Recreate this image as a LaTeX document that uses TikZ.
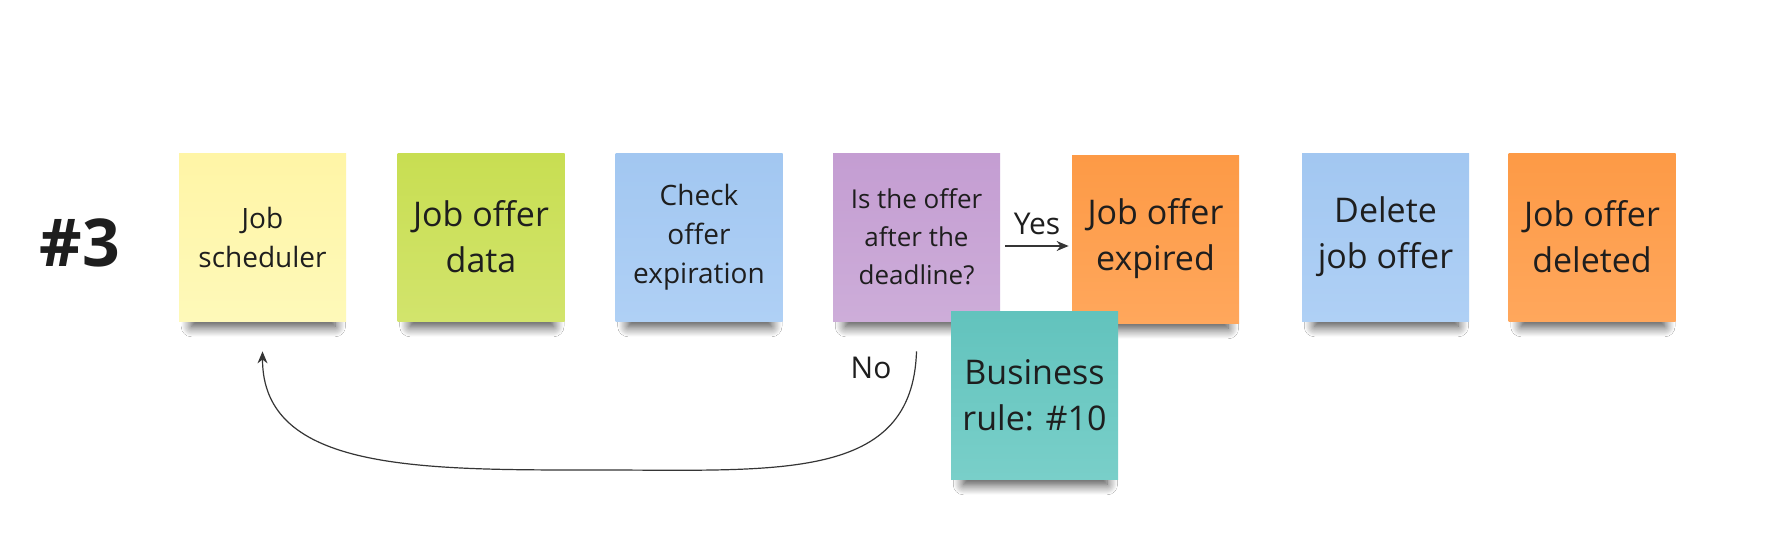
\documentclass[tikz,border=0pt]{standalone}
\usepackage{fontspec}
\setmainfont{Open Sans}
\usepackage{tikz}
\usetikzlibrary{shadows.blur}
\usetikzlibrary{arrows.meta}
\usepackage{xcolor}
\definecolor{ink}{HTML}{1E1E1E}
\definecolor{yellowtop}{HTML}{FFF5A6}
\definecolor{yellowbot}{HTML}{FEF9B9}
\definecolor{greentop}{HTML}{C8DE52}
\definecolor{greenbot}{HTML}{D2E46C}
\definecolor{bluetop}{HTML}{A2C7F1}
\definecolor{bluebot}{HTML}{AFD0F5}
\definecolor{purpletop}{HTML}{C49DD2}
\definecolor{purplebot}{HTML}{CDADD9}
\definecolor{orangetop}{HTML}{FD9A46}
\definecolor{orangebot}{HTML}{FFA75C}
\definecolor{tealtop}{HTML}{62C3BD}
\definecolor{tealbot}{HTML}{79CFC9}

\begin{document}
\begin{tikzpicture}[x=0.5pt,y=-0.5pt,
note/.style={minimum width=83.5pt, minimum height=84pt, align=center, text=ink,
  blur shadow={shadow xshift=0.5pt, shadow yshift=-10pt, shadow scale=0.86, shadow opacity=75, shadow blur radius=6pt, shadow blur steps=12}},
big/.style={font=\fontsize{17}{23}\selectfont},
mid/.style={font=\fontsize{14}{19.5}\selectfont},
small/.style={font=\fontsize{13}{19}\selectfont},
lbl/.style={text=ink, font=\fontsize{15}{18}\selectfont},
flow/.style={draw=ink!90, line width=0.6pt, -{Stealth[length=6pt,width=5pt]}}]
\fill[white] (0,0) rectangle (1792,557);
\node[text=ink, font=\fontsize{33}{40}\selectfont\bfseries] (title) at (80,243) {\#3};
\node[note, mid, top color=yellowtop, bottom color=yellowbot] (sched) at (262.5,237) {Job\\scheduler};
\node[note, big, top color=greentop, bottom color=greenbot] (data) at (481,237) {Job offer\\data};
\node[note, mid, top color=bluetop, bottom color=bluebot] (check) at (699,237) {Check\\offer\\expiration};
\node[note, small, top color=purpletop, bottom color=purplebot] (ask) at (916.5,237) {Is the offer\\after the\\deadline?};
\node[note, big, top color=orangetop, bottom color=orangebot] (expired) at (1155.5,239) {Job offer\\expired};
\node[note, big, top color=bluetop, bottom color=bluebot] (delete) at (1385.5,237) {Delete\\job offer};
\node[note, big, top color=orangetop, bottom color=orangebot] (deleted) at (1592,237) {Job offer\\deleted};
\node[note, big, top color=tealtop, bottom color=tealbot] (rule) at (1034.5,395) {Business\\rule: \#10};
\draw[flow] ([xshift=2.5pt,yshift=-4.5pt]ask.east) -- node[lbl, above, yshift=2pt] (yes) {Yes} ([xshift=-1.5pt,yshift=-3.5pt]expired.west);
\draw[flow] ([yshift=-15pt]ask.south) .. controls +(-4,130) and +(180,0) .. (600,470)
  .. controls +(-180,0) and +(0,120) .. ([yshift=-15pt]sched.south);
\node[lbl] (no) at (871,368) {No};
\end{tikzpicture}
\end{document}
